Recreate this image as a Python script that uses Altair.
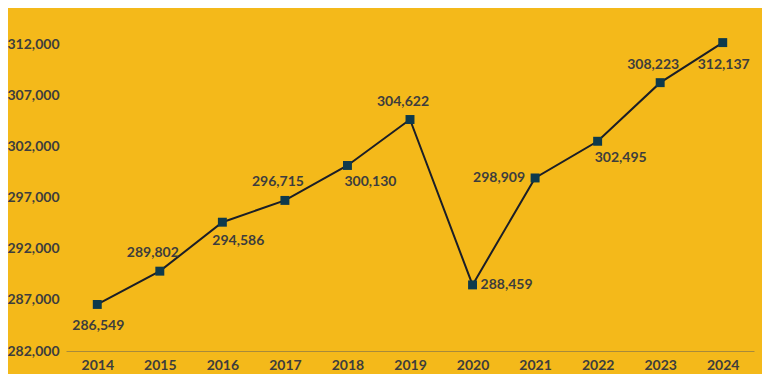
import altair as alt
import pandas as pd

years = ["2014", "2015", "2016", "2017", "2018", "2019", "2020", "2021", "2022", "2023", "2024"]
values = [286549, 289802, 294586, 296715, 300130, 304622, 288459, 298909, 302495, 308223, 312137]
label_pos = ["below", "above_l", "below_r2", "above_l", "below_r", "above_l", "right", "left", "below_r", "above_l", "below"]
y_ticks = [282000, 287000, 292000, 297000, 302000, 307000, 312000]

df = pd.DataFrame({"year": years, "value": values, "pos": label_pos})

BG = "#F4B91A"
TXT = "#3D3D3D"
FONT = "Lato"

x = alt.X("year:N", scale=alt.Scale(type="point", padding=0.5),
          axis=alt.Axis(title=None, labelAngle=0, ticks=False, domain=True,
                        domainColor="#A88A3A", domainWidth=1, labelPadding=7,
                        labelFontSize=14, labelFontWeight="bold", labelColor=TXT,
                        labelFont=FONT, grid=False))
y = alt.Y("value:Q", scale=alt.Scale(domain=[282000, 312000], nice=False, zero=False),
          axis=alt.Axis(title=None, values=y_ticks, labelExpr="format(datum.value, ',')",
                        ticks=False, domain=False,
                        grid=False, labelPadding=7, labelFontSize=14, labelFontWeight="bold",
                        labelColor=TXT, labelFont=FONT))

base = alt.Chart(df)
line = base.mark_line(color="#1B1E27", strokeWidth=2).encode(x=x, y=y)
pts = base.mark_square(size=80, color="#0E3A4C", opacity=1).encode(x=x, y=y)

offsets = {
    "below": dict(dx=1, dy=22, align="center"),
    "above_l": dict(dx=-7, dy=-18, align="center"),
    "below_r": dict(dx=23, dy=17, align="center"),
    "below_r2": dict(dx=16, dy=19, align="center"),
    "right": dict(dx=8, dy=0, align="left"),
    "left": dict(dx=-10, dy=0, align="right"),
}
texts = []
for p, o in offsets.items():
    texts.append(
        base.transform_filter(alt.datum.pos == p)
        .mark_text(fontSize=14, fontWeight="bold", color=TXT, font=FONT,
                   baseline="middle", **o)
        .encode(x=x, y=y, text=alt.Text("value:Q", format=","))
    )

chart = alt.layer(line, pts, *texts).properties(
    width=688, height=307,
    background=BG,
    padding={"left": 58, "top": 36, "right": 8, "bottom": 23},
    autosize=alt.AutoSizeParams(type="none"),
).configure_view(stroke=None)

chart.save("out.html", embed_options={"renderer": "svg", "actions": False})
